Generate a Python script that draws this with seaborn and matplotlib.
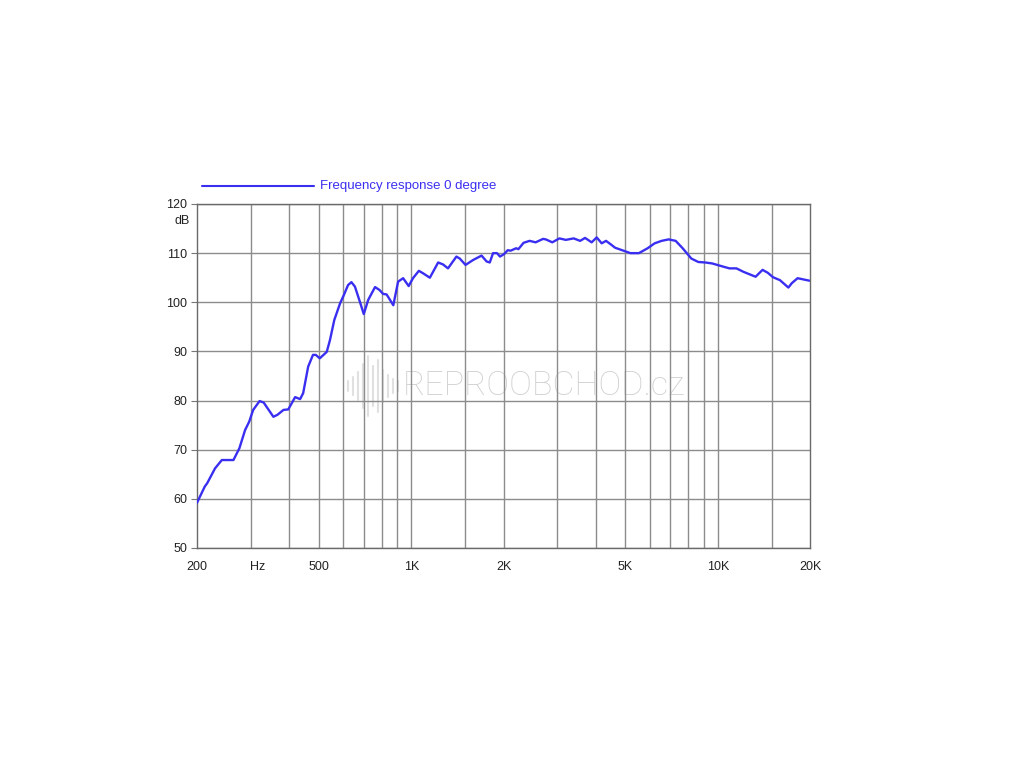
import numpy as np
import pandas as pd
import seaborn as sns
import matplotlib
matplotlib.use("Agg")
import matplotlib.pyplot as plt
from matplotlib.lines import Line2D
from matplotlib.ticker import FixedLocator, NullFormatter

# ---- data ----
freq_hz = [200, 212, 216, 229, 241, 263, 275, 287, 296, 305, 320, 330, 355, 366, 383, 397,
           418, 434, 444, 461, 478, 488, 503, 530, 543, 561, 586, 603, 622, 638, 655, 680,
           700, 724, 762, 788, 810, 831, 874, 906, 941, 981, 1013, 1059, 1093, 1150, 1224,
           1270, 1318, 1404, 1440, 1504, 1591, 1696, 1762, 1804, 1849, 1905, 1948, 2008,
           2065, 2110, 2200, 2236, 2325, 2433, 2546, 2692, 2748, 2885, 3044, 3194, 3389,
           3557, 3690, 3878, 4028, 4182, 4320, 4475, 4625, 4927, 5186, 5531, 5907, 6226,
           6560, 6918, 7290, 7682, 8200, 8642, 9106, 9596, 10225, 10920, 11510, 12130,
           13290, 14005, 14565, 15150, 15960, 17000, 17450, 18220, 19900]
spl_db = [59.2, 62.5, 63.2, 66.2, 67.9, 67.9, 70.3, 74.0, 75.7, 78.1, 79.9, 79.6, 76.7, 77.1,
          78.1, 78.2, 80.7, 80.3, 81.5, 86.9, 89.3, 89.3, 88.6, 89.9, 92.3, 96.4, 99.8,
          101.5, 103.5, 104.1, 103.2, 100.1, 97.6, 100.5, 103.1, 102.5, 101.7, 101.6, 99.4,
          104.2, 104.9, 103.3, 104.9, 106.4, 105.9, 105.0, 108.1, 107.7, 106.9, 109.3,
          108.9, 107.6, 108.6, 109.5, 108.3, 108.1, 110.0, 110.0, 109.3, 109.8, 110.6,
          110.5, 111.0, 110.8, 112.1, 112.5, 112.2, 112.9, 112.8, 112.2, 113.0, 112.7,
          113.0, 112.5, 113.1, 112.2, 113.2, 112.0, 112.5, 111.8, 111.1, 110.5, 110.0,
          110.0, 111.0, 112.0, 112.5, 112.8, 112.5, 111.0, 108.9, 108.2, 108.1, 107.9,
          107.4, 106.9, 106.9, 106.2, 105.2, 106.6, 106.0, 105.1, 104.5, 103.0, 103.9,
          104.9, 104.4]
series_label = "Frequency response 0 degree"

grid_freqs = [300, 400, 500, 600, 700, 800, 900, 1000, 1500, 2000, 3000, 4000, 5000,
              6000, 7000, 8000, 9000, 10000, 15000]
tick_freqs = [200, 316, 500, 1000, 2000, 5000, 10000, 20000]
tick_labels = ["200", "Hz", "500", "1K", "2K", "5K", "10K", "20K"]
y_ticks = [50, 60, 70, 80, 90, 100, 110, 120]

df = pd.DataFrame({"freq": freq_hz, "spl": spl_db})

sns.set_style("white")
plt.rcParams["font.family"] = ["Liberation Sans", "DejaVu Sans"]

fig = plt.figure(figsize=(10.24, 7.68), dpi=100)
ax = fig.add_axes([197 / 1024, 1 - 548 / 768, (810 - 197) / 1024, (548 - 204) / 768])
ax.set_axisbelow(True)

line_color = "#3a2ff0"
sns.lineplot(data=df, x="freq", y="spl", ax=ax, color=line_color, linewidth=1.7,
             legend=False, zorder=3)

ax.set_xscale("log")
ax.set_xlim(200, 20000)
ax.set_ylim(50, 120)

ax.xaxis.remove_overlapping_locs = False
ax.xaxis.set_major_locator(FixedLocator(tick_freqs))
ax.xaxis.set_ticklabels(tick_labels)
ax.xaxis.set_minor_locator(FixedLocator(grid_freqs))
ax.xaxis.set_minor_formatter(NullFormatter())
ax.set_yticks(y_ticks)
ax.set_yticklabels([str(v) for v in y_ticks])

ax.grid(False)
ax.grid(True, which="minor", axis="x", color="#8c8c8c", linewidth=1.0)
ax.grid(True, which="major", axis="y", color="#8c8c8c", linewidth=1.0)

ax.tick_params(axis="x", which="both", length=0, pad=9, labelsize=9, colors="#222222")
ax.tick_params(axis="y", which="major", length=4, width=0.8, color="#777777", pad=3,
               labelsize=9, labelcolor="#222222", left=True)
for s in ax.spines.values():
    s.set_color("#6a6a6a")
    s.set_linewidth(1.0)
ax.set_xlabel("")
ax.set_ylabel("")

# dB unit label below 120
fig.text(182 / 1024, 1 - 221 / 768, "dB", ha="center", va="center", fontsize=9,
         color="#222222")

# legend above the plot
fig.add_artist(Line2D([202 / 1024, 314 / 1024], [1 - 186 / 768, 1 - 186 / 768],
                      color=line_color, linewidth=1.5))
fig.text(320 / 1024, 1 - 186 / 768, series_label, ha="left", va="center", fontsize=9.5,
         color=line_color)

# watermark (behind grid)
ax.text(544 / 1024, 1 - 386 / 768, "REPROOBCHOD.cz", ha="center", va="center",
        fontsize=24.5, color="#d0d0d0", family=["Roboto", "DejaVu Sans"],
        fontweight="light", zorder=0.1, transform=fig.transFigure)
bar_x = [348, 353, 358, 363, 368, 373, 378, 383, 388, 393, 398]
bar_h = [5, 9, 14, 22, 30, 20, 26, 16, 11, 7, 5]
for bx, bh in zip(bar_x, bar_h):
    ax.add_line(Line2D([bx / 1024, bx / 1024],
                       [1 - (386 - bh) / 768, 1 - (386 + bh) / 768],
                       color="#e0e0e0", linewidth=1.5, zorder=0.1,
                       transform=fig.transFigure))

fig.savefig("out.png", dpi=100, facecolor="white")
